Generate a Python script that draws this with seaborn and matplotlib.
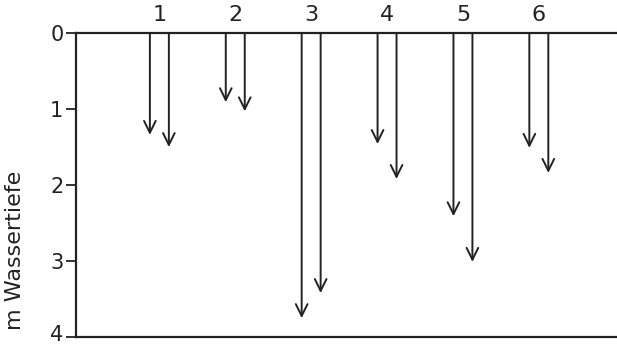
import numpy as np
import pandas as pd
from matplotlib import pyplot as plt
from matplotlib import transforms
import seaborn as sns

# Messstellen und Eindringtiefen (m), je zwei Pfeile pro Stelle
stations = [1, 2, 3, 4, 5, 6]
depth_left = [1.34, 0.91, 3.75, 1.46, 2.41, 1.51]
depth_right = [1.50, 1.03, 3.42, 1.92, 3.01, 1.84]

depth_ticks = [0, 1, 2, 3, 4]
ylabel = "m Wassertiefe"

df = pd.DataFrame({"station": stations, "left": depth_left, "right": depth_right})

sns.set_theme(style="ticks")
plt.rcParams["font.family"] = ["DejaVu Sans"]

fig = plt.figure(figsize=(6.17, 3.44), dpi=100)
ax = fig.add_axes([0.123, 0.020, 0.877, 0.884])

offset = 0.125
for _, row in df.iterrows():
    for dx, depth in [(-offset, row["left"]), (offset, row["right"])]:
        x = row["station"] + dx
        ax.annotate("", xy=(x, depth), xytext=(x, 0),
                    arrowprops=dict(arrowstyle="->,head_length=0.85,head_width=0.42",
                                    mutation_scale=10, lw=1.4, color="#222222",
                                    shrinkA=0, shrinkB=0))

ax.set_xlim(-0.1, 7.03)
ax.set_ylim(4, 0)

ax.set_yticks(depth_ticks)
ax.set_yticklabels([str(t) for t in depth_ticks], fontsize=15, color="#222222")
ax.tick_params(axis="y", length=7, width=1.3, pad=2, color="#222222")
# the bottom label sits a little above its tick, as in the original
last = ax.get_yticklabels()[-1]
last.set_transform(last.get_transform() + transforms.ScaledTranslation(0, 3 / 72, fig.dpi_scale_trans))

ax.xaxis.tick_top()
ax.set_xticks(stations)
ax.set_xticklabels([str(s) for s in stations], fontsize=16, color="#222222")
ax.tick_params(axis="x", length=0, pad=6)

ax.set_ylabel(ylabel, fontsize=16, color="#222222")
ax.yaxis.set_label_coords(-0.094, 0.285)

sns.despine(ax=ax, top=False, right=True, left=False, bottom=False)
for side in ["top", "bottom", "left"]:
    ax.spines[side].set_linewidth(1.6)
    ax.spines[side].set_color("#222222")

plt.savefig("out.png", dpi=100)
